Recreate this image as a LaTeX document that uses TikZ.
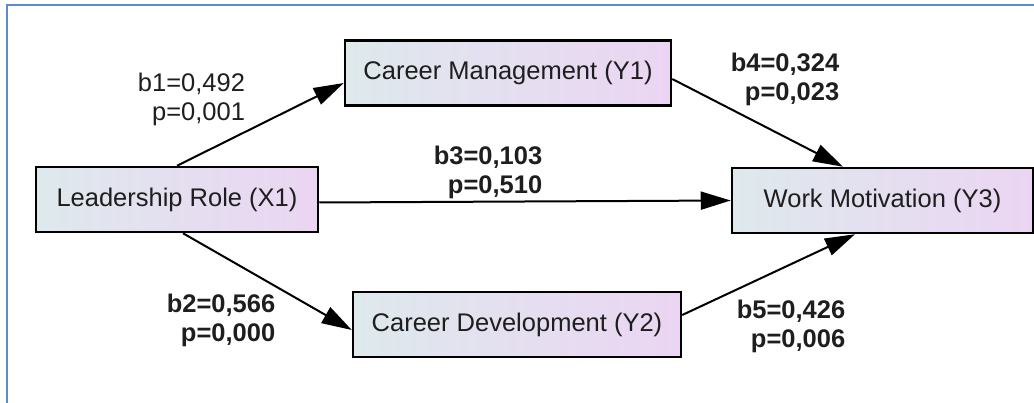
\documentclass[tikz,border=0pt]{standalone}
\usepackage{fontspec}
\setmainfont{Liberation Sans}
\usetikzlibrary{arrows.meta}
\definecolor{boxleft}{RGB}{222,233,236}
\definecolor{boxright}{RGB}{235,213,243}
\definecolor{framebl}{RGB}{91,139,208}
\definecolor{txt}{RGB}{30,30,30}
\tikzset{
  var/.style={draw=black, line width=2.5pt, left color=boxleft, right color=boxright,
    minimum height=65pt, inner sep=0pt, text=txt, font=\fontsize{25.5}{29}\selectfont},
  path/.style={line width=2pt, -{Triangle[length=30pt,width=18pt]}},
  coef/.style={align=right, inner sep=0pt, text=txt, font=\fontsize{25.5}{29}\selectfont},
  coefb/.style={coef, font=\fontsize{25.5}{29}\selectfont\bfseries}
}
\begin{document}
\begin{tikzpicture}[x=1pt, y=-1pt]
          \useasboundingbox (0,0) rectangle (1034,403);
          \draw[framebl, line width=2pt] (7,403) -- (7,5) -- (1034,5);

          \node[var, minimum width=282pt] (x1) at (177, 199.5) {Leadership Role (X1)};
          \node[var, minimum width=326pt] (y1) at (508, 73)    {Career Management (Y1)};
          \node[var, minimum width=328pt] (y2) at (517, 324.5) {Career Development (Y2)};
          \node[var, minimum width=301pt] (y3) at (882.5, 200.5) {Work Motivation (Y3)};

          \draw[path] (x1.north) -- ([yshift=-10pt]y1.west);
          \draw[path] ([yshift=-3pt]x1.east) -- (y3.west);
          \draw[path] ([xshift=6pt]x1.south) -- ([yshift=-5.5pt]y2.west);
          \draw[path] ([yshift=-6pt]y1.east) -- ([xshift=-39.5pt]y3.north);
          \draw[path] ([yshift=9.5pt]y2.east) -- ([xshift=-27.5pt]y3.south);

          \node[coef]  (b1) at (191.5, 99) {b1=0,492\\p=0,001};
          \node[coefb] (b2) at (221, 320)  {b2=0,566\\p=0,000};
          \node[coefb] (b3) at (488, 172)  {b3=0,103\\p=0,510};
          \node[coefb] (b4) at (785, 79)   {b4=0,324\\p=0,023};
          \node[coefb] (b5) at (791, 326)  {b5=0,426\\p=0,006};
        \end{tikzpicture}
\end{document}
